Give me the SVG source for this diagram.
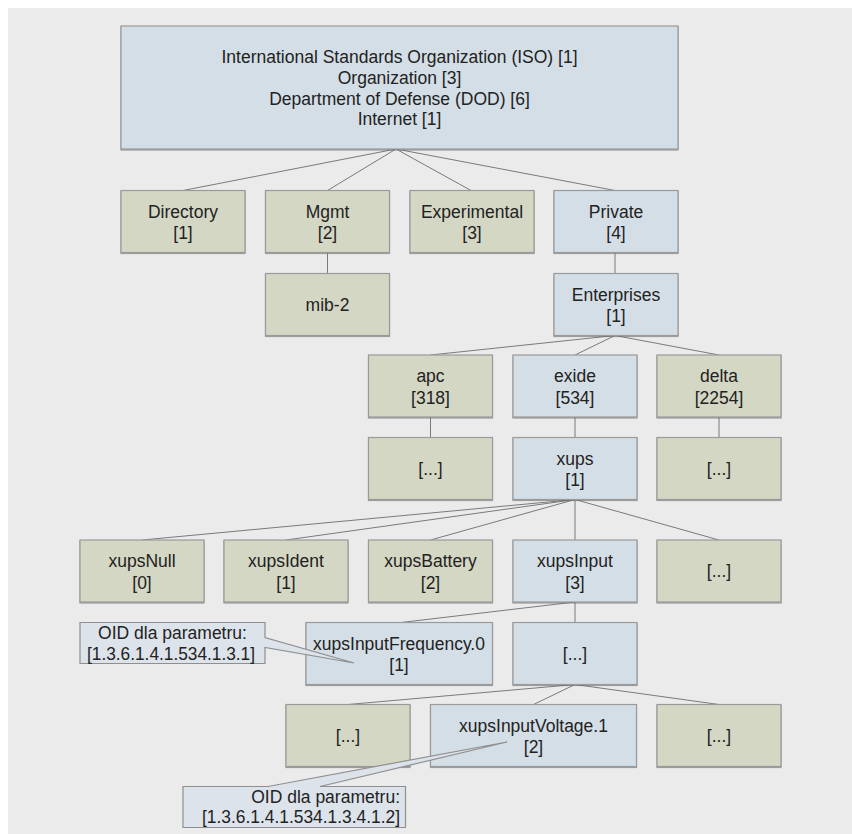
<svg xmlns="http://www.w3.org/2000/svg" width="852" height="834" viewBox="0 0 852 834">
<defs>
<style>
.bg{fill:#ebebeb}
.n rect{stroke:#9a9a9a;stroke-width:1.2;filter:url(#sh)}
.o rect{fill:#d4d7c3}
.b rect{fill:#d4dee6}
.c path{fill:#dde3ea;stroke:#8f8f8f;stroke-width:1.2}
text{font-family:"Liberation Sans",Arial,sans-serif;font-size:17.5px;fill:#222;text-anchor:middle}
.r{text-anchor:end}
#connectors line{stroke:#7a7a7a;stroke-width:1}
</style>
<filter id="sh" x="-5%" y="-5%" width="110%" height="115%">
<feDropShadow dx="0" dy="1" stdDeviation="0.6" flood-color="#666" flood-opacity="0.6"/>
</filter>
</defs>
<rect class="bg" x="8" y="8" width="844" height="826"/>

<g id="connectors">
<line x1="396" y1="149" x2="183" y2="190.5"/>
<line x1="396" y1="149" x2="327.5" y2="190.5"/>
<line x1="396" y1="149" x2="471" y2="190.5"/>
<line x1="396" y1="149" x2="615" y2="190.5"/>
<line x1="327.5" y1="252.5" x2="327.5" y2="273.5"/>
<line x1="615" y1="252.5" x2="615" y2="273.5"/>
<line x1="615" y1="335.5" x2="430.5" y2="355"/>
<line x1="615" y1="335.5" x2="575" y2="355"/>
<line x1="615" y1="335.5" x2="719" y2="355"/>
<line x1="430.5" y1="417" x2="430.5" y2="437.5"/>
<line x1="575" y1="417" x2="575" y2="437.5"/>
<line x1="719" y1="417" x2="719" y2="437.5"/>
<line x1="575" y1="499.5" x2="142" y2="540"/>
<line x1="575" y1="499.5" x2="286" y2="540"/>
<line x1="575" y1="499.5" x2="430.5" y2="540"/>
<line x1="575" y1="499.5" x2="575" y2="540"/>
<line x1="575" y1="499.5" x2="719" y2="540"/>
<line x1="575" y1="602" x2="401" y2="622.5"/>
<line x1="575" y1="602" x2="575" y2="622.5"/>
<line x1="575" y1="684.5" x2="348" y2="704.5"/>
<line x1="575" y1="684.5" x2="533.5" y2="704.5"/>
<line x1="575" y1="684.5" x2="719" y2="704.5"/>
</g>

<g id="iso" class="n b">
<rect x="121" y="26" width="557" height="123"/>
<text x="399.5" y="63">International Standards Organization (ISO) [1]</text>
<text x="399.5" y="84">Organization [3]</text>
<text x="399.5" y="104.5">Department of Defense (DOD) [6]</text>
<text x="399.5" y="125">Internet [1]</text>
</g>

<g id="directory" class="n o"><rect x="121" y="190.5" width="124" height="62"/><text x="183" y="217.5">Directory</text><text x="183" y="239">[1]</text></g>
<g id="mgmt" class="n o"><rect x="265.5" y="190.5" width="124" height="62"/><text x="327.5" y="217.5">Mgmt</text><text x="327.5" y="239">[2]</text></g>
<g id="experimental" class="n o"><rect x="410" y="190.5" width="124" height="62"/><text x="472" y="217.5">Experimental</text><text x="472" y="239">[3]</text></g>
<g id="private" class="n b"><rect x="554" y="190.5" width="124" height="62"/><text x="616" y="217.5">Private</text><text x="616" y="239">[4]</text></g>

<g id="mib2" class="n o"><rect x="265.5" y="273.5" width="124" height="62"/><text x="327.5" y="310.5">mib-2</text></g>
<g id="enterprises" class="n b"><rect x="554" y="273.5" width="124" height="62"/><text x="616" y="300.5">Enterprises</text><text x="616" y="322">[1]</text></g>

<g id="apc" class="n o"><rect x="368.5" y="355" width="124" height="62"/><text x="430.5" y="382">apc</text><text x="430.5" y="403.5">[318]</text></g>
<g id="exide" class="n b"><rect x="513" y="355" width="124" height="62"/><text x="575" y="382">exide</text><text x="575" y="403.5">[534]</text></g>
<g id="delta" class="n o"><rect x="657" y="355" width="124" height="62"/><text x="719" y="382">delta</text><text x="719" y="403.5">[2254]</text></g>

<g id="apc-more" class="n o"><rect x="368.5" y="437.5" width="124" height="62"/><text x="430.5" y="474.5">[...]</text></g>
<g id="xups" class="n b"><rect x="513" y="437.5" width="124" height="62"/><text x="575" y="464.5">xups</text><text x="575" y="486">[1]</text></g>
<g id="delta-more" class="n o"><rect x="657" y="437.5" width="124" height="62"/><text x="719" y="474.5">[...]</text></g>

<g id="xupsNull" class="n o"><rect x="80" y="540" width="124" height="62"/><text x="142" y="567">xupsNull</text><text x="142" y="588.5">[0]</text></g>
<g id="xupsIdent" class="n o"><rect x="224" y="540" width="124" height="62"/><text x="286" y="567">xupsIdent</text><text x="286" y="588.5">[1]</text></g>
<g id="xupsBattery" class="n o"><rect x="368.5" y="540" width="124" height="62"/><text x="430.5" y="567">xupsBattery</text><text x="430.5" y="588.5">[2]</text></g>
<g id="xupsInput" class="n b"><rect x="513" y="540" width="124" height="62"/><text x="575" y="567">xupsInput</text><text x="575" y="588.5">[3]</text></g>
<g id="xups-more" class="n o"><rect x="657" y="540" width="124" height="62"/><text x="719" y="577">[...]</text></g>

<g id="xupsInputFrequency" class="n b"><rect x="306" y="622.5" width="186.5" height="62"/><text x="399" y="649.5">xupsInputFrequency.0</text><text x="399" y="671">[1]</text></g>
<g id="input-more" class="n b"><rect x="513" y="622.5" width="124" height="62"/><text x="575" y="659.5">[...]</text></g>

<g id="left-more" class="n o"><rect x="286" y="704.5" width="124" height="62"/><text x="348" y="741.5">[...]</text></g>
<g id="xupsInputVoltage" class="n b"><rect x="430.5" y="704.5" width="206" height="62"/><text x="533.5" y="731.5">xupsInputVoltage.1</text><text x="533.5" y="753">[2]</text></g>
<g id="right-more" class="n o"><rect x="657" y="704.5" width="124" height="62"/><text x="719" y="741.5">[...]</text></g>

<g id="callout1" class="c">
<path d="M80,622.5 H265 V637.5 L354,663 L265,647.5 V663.5 H80 Z"/>
<text x="172.5" y="638.5">OID dla parametru:</text>
<text x="171" y="659.5" textLength="168" lengthAdjust="spacingAndGlyphs">[1.3.6.1.4.1.534.1.3.1]</text>
</g>

<g id="callout2" class="c">
<path d="M183,786.5 H268 L507,742 L320,786.5 H405.5 V827.5 H183 Z"/>
<text class="r" x="400" y="802.5">OID dla parametru:</text>
<text class="r" x="400" y="822.5" textLength="198" lengthAdjust="spacingAndGlyphs">[1.3.6.1.4.1.534.1.3.4.1.2]</text>
</g>
</svg>
